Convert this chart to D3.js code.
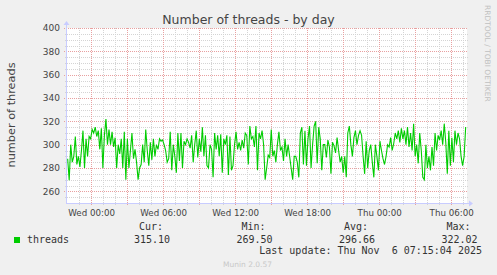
<!DOCTYPE html>
<html>
<head>
<meta charset="utf-8">
<script src="https://cdn.jsdelivr.net/npm/d3@7"></script>
<style>
body { margin: 0; background: #f0f0f0; }
svg { display: block; }
text { font-family: "DejaVu Sans", sans-serif; fill: #444; }
.mono { font-family: "DejaVu Sans Mono", monospace; font-size: 10px; fill: #333; }
</style>
</head>
<body>
<svg></svg>
<script>
// threads readings, oldest first (about every 8 minutes)
const threads = [
	288, 269.5, 300, 285, 290, 307, 283, 290, 281, 295, 312, 280, 305, 290, 307, 305, 313, 310, 315, 307,
	312, 296, 314, 280, 308, 322.02, 300, 313, 300, 311, 298, 306, 280, 300, 292, 305, 280, 311, 270, 305,
	280, 295, 310, 288, 296, 285, 270, 280, 283, 300, 285, 313, 295, 282, 302, 287, 305, 290, 300, 296,
	305, 303, 304, 300, 295, 285, 288, 311, 278, 300, 290, 276, 310, 286, 310, 280, 303, 300, 305, 302,
	297, 308, 285, 300, 312, 289, 305, 294, 315, 290, 308, 282, 280, 300, 296, 272, 310, 296, 308, 290,
	309, 276, 305, 300, 308, 274, 307, 278, 282, 300, 311, 296, 302, 295, 304, 297, 310, 308, 283, 316,
	305, 307, 298, 316, 278, 310, 305, 312, 300, 270, 280, 291, 289, 313, 290, 295, 285, 300, 311, 295,
	298, 286, 305, 290, 300, 290, 280, 270, 290, 290, 285, 272, 310, 315, 283, 312, 282, 305, 316, 280,
	300, 316, 320, 284, 315, 305, 278, 300, 300, 289, 304, 298, 275, 302, 299, 293, 306, 295, 285, 290,
	276, 290, 272, 310, 316, 300, 290, 306, 312, 300, 308, 312, 308, 290, 275, 303, 280, 295, 300, 285,
	272, 300, 290, 278, 303, 295, 288, 283, 290, 300, 298, 306, 295, 301, 310, 305, 312, 302, 314, 305,
	312, 300, 315, 298, 310, 295, 318, 290, 300, 284, 310, 295, 272, 270, 300, 280, 290, 278, 298, 282,
	310, 295, 308, 304, 312, 300, 318, 302, 275, 312, 282, 306, 285, 312, 300, 310, 305, 290, 282, 290,
	315.1
]

const firstReading = Date.UTC(2025, 10, 4, 22, 5, 0)
const lastReading = Date.UTC(2025, 10, 6, 7, 15, 0)
const viewStart = Date.UTC(2025, 10, 4, 22, 1, 40)
const viewEnd = Date.UTC(2025, 10, 6, 7, 21, 40)

const legendLabels = ["Cur:", "Min:", "Avg:", "Max:"]
const legendValues = [315.10, 269.50, 296.66, 322.02]
const seriesName = "threads"
const lastUpdate = "Last update: Thu Nov  6 07:15:04 2025"

const svg = d3.select("svg")
	.attr("width", 497)
	.attr("height", 275)

const plotLeft = 67, plotRight = 467, plotTop = 28, plotBottom = 203

const xScale = d3.scaleUtc()
	.domain([viewStart, viewEnd])
	.range([plotLeft, plotRight])

const yScale = d3.scaleLinear()
	.domain([250, 400])
	.range([plotBottom, plotTop])

const timeStep = (lastReading - firstReading) / (threads.length - 1)
const points = threads.map((v, i) => { return { t: new Date(firstReading + i * timeStep), v: v } })

svg.append("rect")
	.attr("width", 497)
	.attr("height", 275)
	.style("fill", "#f0f0f0")

svg.append("rect")
	.attr("x", plotLeft)
	.attr("y", plotTop)
	.attr("width", plotRight - plotLeft)
	.attr("height", plotBottom - plotTop)
	.style("fill", "#ffffff")

const grid = svg.append("g")
	.attr("shape-rendering", "crispEdges")

// minor grid: every 5 threads and every hour
grid.selectAll("line.hminor")
	.data(d3.range(255, 401, 5).filter((d) => { return d % 20 !== 0 }))
	.enter()
	.append("line")
	.attr("x1", plotLeft - 2)
	.attr("x2", plotRight + 1)
	.attr("y1", (d) => { return Math.round(yScale(d)) + 0.5 })
	.attr("y2", (d) => { return Math.round(yScale(d)) + 0.5 })
	.style("stroke", "#d4d4d4")
	.style("stroke-dasharray", "1,1")

grid.selectAll("line.vminor")
	.data(d3.utcHour.range(new Date(viewStart), new Date(viewEnd)).filter((d) => { return d.getUTCHours() % 3 !== 0 }))
	.enter()
	.append("line")
	.attr("x1", (d) => { return Math.round(xScale(d)) + 0.5 })
	.attr("x2", (d) => { return Math.round(xScale(d)) + 0.5 })
	.attr("y1", plotTop)
	.attr("y2", plotBottom + 2)
	.style("stroke", "#d4d4d4")
	.style("stroke-dasharray", "1,1")

// major grid: every 20 threads and every 3 hours
grid.selectAll("line.hmajor")
	.data(d3.range(260, 401, 20))
	.enter()
	.append("line")
	.attr("x1", plotLeft - 3)
	.attr("x2", plotRight + 1)
	.attr("y1", (d) => { return Math.round(yScale(d)) + 0.5 })
	.attr("y2", (d) => { return Math.round(yScale(d)) + 0.5 })
	.style("stroke", "#e8a0a0")
	.style("stroke-dasharray", "1,1")

grid.selectAll("line.vmajor")
	.data(d3.utcHour.every(3).range(new Date(viewStart), new Date(viewEnd)))
	.enter()
	.append("line")
	.attr("x1", (d) => { return Math.round(xScale(d)) + 0.5 })
	.attr("x2", (d) => { return Math.round(xScale(d)) + 0.5 })
	.attr("y1", plotTop)
	.attr("y2", plotBottom + 3)
	.style("stroke", "#e8a0a0")
	.style("stroke-dasharray", "1,1")

// axes with arrows
const axisColor = "#c8ccff"
svg.append("line")
	.attr("x1", plotLeft - 0.5).attr("x2", plotLeft - 0.5)
	.attr("y1", plotBottom + 1).attr("y2", plotTop - 5)
	.style("stroke", axisColor)
svg.append("path")
	.attr("d", `M${plotLeft - 3.5},${plotTop - 3} L${plotLeft - 0.5},${plotTop - 7} L${plotLeft + 2.5},${plotTop - 3} Z`)
	.style("fill", axisColor)
svg.append("line")
	.attr("x1", plotLeft - 1).attr("x2", plotRight + 4)
	.attr("y1", plotBottom + 0.5).attr("y2", plotBottom + 0.5)
	.style("stroke", axisColor)
svg.append("path")
	.attr("d", `M${plotRight + 2},${plotBottom - 2.5} L${plotRight + 6},${plotBottom + 0.5} L${plotRight + 2},${plotBottom + 3.5} Z`)
	.style("fill", axisColor)

// y tick labels
svg.selectAll("text.ylabel")
	.data(d3.range(260, 401, 20))
	.enter()
	.append("text")
	.attr("class", "ylabel")
	.attr("x", 60)
	.attr("y", (d) => { return yScale(d) })
	.attr("dy", "0.36em")
	.attr("text-anchor", "end")
	.style("font-size", "9px")
	.text((d) => { return d })

// x tick labels
const timeFormat = d3.utcFormat("%a %H:%M")
svg.selectAll("text.xlabel")
	.data(d3.utcHour.every(6).range(new Date(viewStart), new Date(viewEnd)))
	.enter()
	.append("text")
	.attr("class", "xlabel")
	.attr("x", (d) => { return xScale(d) + 1 })
	.attr("y", 216)
	.attr("text-anchor", "middle")
	.style("font-size", "8.7px")
	.text((d) => { return timeFormat(d) })

// the series
const lineGenerator = d3.line()
	.x((d) => { return xScale(d.t) })
	.y((d) => { return yScale(d.v) })

svg.append("path")
	.datum(points)
	.attr("d", lineGenerator)
	.style("fill", "none")
	.style("stroke", "#00cc00")
	.style("stroke-width", 1.1)

// titles
svg.append("text")
	.attr("x", 248.5)
	.attr("y", 23.5)
	.attr("text-anchor", "middle")
	.style("font-size", "12.5px")
	.text("Number of threads - by day")

svg.append("text")
	.attr("transform", "translate(15, 115) rotate(-90)")
	.attr("text-anchor", "middle")
	.style("font-size", "11.3px")
	.text("number of threads")

svg.append("text")
	.attr("transform", "translate(484.5, 5) rotate(90)")
	.style("font-size", "7.5px")
	.style("fill", "#c0c0c0")
	.text("RRDTOOL / TOBI OETIKER")

// legend
svg.append("rect")
	.attr("x", 14)
	.attr("y", 237)
	.attr("width", 6)
	.attr("height", 6)
	.style("fill", "#00cc00")

svg.append("text")
	.attr("class", "mono")
	.attr("x", 27)
	.attr("y", 243)
	.text(seriesName)

const colEnds = [163, 265.5, 368, 470.5]

svg.selectAll("text.leglabel")
	.data(legendLabels)
	.enter()
	.append("text")
	.attr("class", "mono")
	.attr("x", (d, i) => { return colEnds[i] })
	.attr("y", 230)
	.attr("text-anchor", "end")
	.text((d) => { return d })

svg.selectAll("text.legvalue")
	.data(legendValues)
	.enter()
	.append("text")
	.attr("class", "mono")
	.attr("x", (d, i) => { return colEnds[i] + 7 })
	.attr("y", 243)
	.attr("text-anchor", "end")
	.text((d) => { return d3.format(".2f")(d) })

svg.append("text")
	.attr("class", "mono")
	.attr("x", 482)
	.attr("y", 254)
	.attr("text-anchor", "end")
	.style("white-space", "pre")
	.text(lastUpdate)

svg.append("text")
	.attr("x", 247.5)
	.attr("y", 266.5)
	.attr("text-anchor", "middle")
	.style("font-size", "7.5px")
	.style("fill", "#c8c8c8")
	.text("Munin 2.0.57")
</script>
</body>
</html>
